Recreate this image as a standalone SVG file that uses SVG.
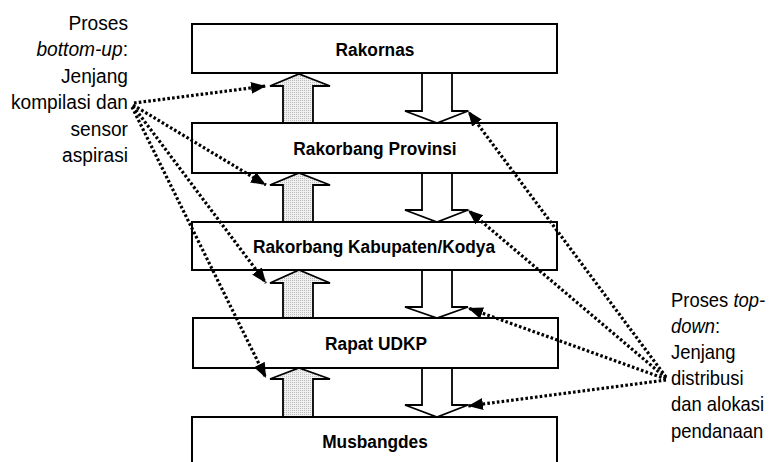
<svg xmlns="http://www.w3.org/2000/svg" width="776" height="462" viewBox="0 0 776 462">
<style>
.box{fill:#fff;stroke:#000;stroke-width:2}
.lbl{font-family:"Liberation Sans",Arial,sans-serif;font-weight:bold;font-size:18.6px;text-anchor:middle;fill:#000}
.note{font-family:"Liberation Sans",Arial,sans-serif;font-size:20.6px;fill:#000}
.noteR{font-family:"Liberation Sans",Arial,sans-serif;font-size:19.8px;fill:#000}
.up{fill:url(#stip);stroke:#000;stroke-width:1.8;stroke-linejoin:miter}
.down{fill:#fff;stroke:#000;stroke-width:1.8;stroke-linejoin:miter}
.dot{fill:none;stroke:#000;stroke-width:3.2;stroke-dasharray:2.6 2.2}
</style>
<defs>
<pattern id="stip" width="2" height="2" patternUnits="userSpaceOnUse">
<rect width="2" height="2" fill="#f0f0f0"/>
<rect width="1" height="1" fill="#bbbbbb"/>
</pattern>
<marker id="ah" markerUnits="userSpaceOnUse" markerWidth="17" markerHeight="13" refX="15" refY="6" orient="auto">
<path d="M0,0 L15,6 L0,12 z" fill="#000"/>
</marker>
</defs>

<g id="flow-arrows">
<path class="up" d="M283,123 L283,86 L270,86 L299,74 L330,86 L313,86 L313,123 z"/>
<path class="up" d="M283,222 L283,185 L270,185 L299,173 L330,185 L313,185 L313,222 z"/>
<path class="up" d="M283,318 L283,283 L270,283 L299,270 L330,283 L313,283 L313,318 z"/>
<path class="up" d="M283,417 L283,379 L270,379 L299,368 L330,379 L313,379 L313,417 z"/>
<path class="down" d="M422,73 L422,111 L405,111 L437,123 L468,111 L452,111 L452,73"/>
<path class="down" d="M422,173 L422,210 L405,210 L437,222 L468,210 L452,210 L452,173"/>
<path class="down" d="M422,270 L422,307 L405,307 L437,318 L468,307 L452,307 L452,270"/>
<path class="down" d="M422,368 L422,405 L405,405 L437,417 L468,405 L452,405 L452,368"/>
</g>

<g id="node-rakornas">
<rect class="box" x="192" y="24" width="365" height="49"/>
<text class="lbl" transform="translate(375,56) scale(0.93,1)">Rakornas</text>
</g>
<g id="node-provinsi">
<rect class="box" x="192" y="123" width="365" height="50"/>
<text class="lbl" transform="translate(375,155) scale(0.93,1)">Rakorbang Provinsi</text>
</g>
<g id="node-kabupaten">
<rect class="box" x="192" y="222" width="365" height="48"/>
<text class="lbl" transform="translate(374,253) scale(0.93,1)">Rakorbang Kabupaten/Kodya</text>
</g>
<g id="node-udkp">
<rect class="box" x="193" y="318" width="365" height="50"/>
<text class="lbl" transform="translate(376,350) scale(0.93,1)">Rapat UDKP</text>
</g>
<g id="node-musbangdes">
<rect class="box" x="192" y="417" width="365" height="50"/>
<text class="lbl" transform="translate(375,448) scale(0.93,1)">Musbangdes</text>
</g>

<g id="note-bottom-up" class="note" text-anchor="end" transform="translate(128,0) scale(0.93,1)">
<text x="0" y="30">Proses</text>
<text x="0" y="56.5"><tspan font-style="italic">bottom-up</tspan>:</text>
<text x="0" y="83">Jenjang</text>
<text x="0" y="109.5">kompilasi dan</text>
<text x="0" y="136">sensor</text>
<text x="0" y="162">aspirasi</text>
</g>

<g id="note-top-down" class="noteR" transform="translate(671,0) scale(0.93,1)">
<text x="0" y="307">Proses <tspan font-style="italic">top-</tspan></text>
<text x="0" y="333"><tspan font-style="italic">down</tspan>:</text>
<text x="0" y="359">Jenjang</text>
<text x="0" y="385">distribusi</text>
<text x="0" y="411.5">dan alokasi</text>
<text x="0" y="438">pendanaan</text>
</g>

<g id="connectors">
<line class="dot" x1="134" y1="103" x2="266" y2="86" marker-end="url(#ah)"/>
<line class="dot" x1="133" y1="105" x2="266" y2="185" marker-end="url(#ah)"/>
<line class="dot" x1="133" y1="106" x2="266" y2="283" marker-end="url(#ah)"/>
<line class="dot" x1="132" y1="107" x2="266" y2="378" marker-end="url(#ah)"/>
<line class="dot" x1="666" y1="377" x2="468" y2="111" marker-end="url(#ah)"/>
<line class="dot" x1="666" y1="378" x2="468" y2="210" marker-end="url(#ah)"/>
<line class="dot" x1="666" y1="379" x2="468" y2="308" marker-end="url(#ah)"/>
<line class="dot" x1="666" y1="380" x2="468" y2="406" marker-end="url(#ah)"/>
</g>
</svg>
